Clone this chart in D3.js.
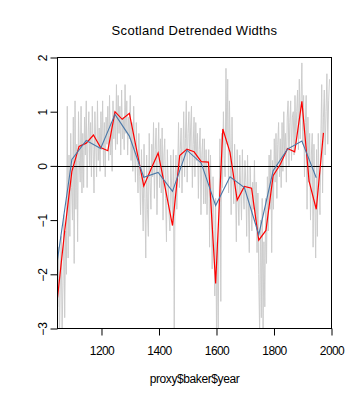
<!DOCTYPE html>
<html>
<head>
<meta charset="utf-8">
<script src="https://cdn.jsdelivr.net/npm/d3@7"></script>
<style>
html,body{margin:0;padding:0;background:#fff;}
svg{display:block;}
text{font-family:"Liberation Sans",Arial,sans-serif;fill:#000;}
</style>
</head>
<body>
<svg id="chart" width="360" height="400"></svg>
<script>
// ---- data ----
const titleText = "Scotland Detrended Widths";
const xLabelText = "proxy$baker$year";
const xTicks = [1200, 1400, 1600, 1800, 2000];
const yTicks = [-3, -2, -1, 0, 1, 2];
const xDomain = [1047, 2000];
const yDomain = [-3, 2];

// annual series (read at 3-year steps from the grey band)
const grayStart = 1048;
const grayStep = 3;
const grayValues = [
  -2.6,-1.5,-3.2,-2.0,-1.3,-3.1,-2.2,-0.9,-2.8,-1.2,
  -2.0,1.1,-1.7,0.2,-1.3,0.6,-0.4,-1.0,0.9,-1.8,
  1.2,-0.8,0.4,-1.4,1.0,0.1,-0.3,1.1,-0.5,0.6,
  -0.4,0.9,0.2,1.2,-0.4,0.5,1.0,0.0,0.8,-0.2,
  1.1,0.3,-0.5,1.0,0.4,-0.2,1.2,0.1,0.7,-0.1,
  1.0,0.3,1.2,0.0,0.8,-0.2,0.9,0.4,1.1,0.1,
  1.3,0.2,0.8,-0.1,1.2,0.5,1.0,0.3,1.5,0.4,
  1.3,0.6,1.1,0.2,1.4,0.5,0.9,0.3,1.5,0.6,
  1.2,0.2,0.9,0.5,1.3,0.1,0.8,-0.1,1.1,0.3,
  -0.3,0.8,0.1,-0.5,0.6,-0.2,-0.9,0.3,-0.4,-1.2,
  0.4,-0.6,-1.7,0.2,-0.8,-1.3,0.6,-0.3,-0.8,0.4,
  -0.2,0.8,-0.6,0.3,0.7,-0.9,0.1,0.8,-0.4,0.5,
  -0.5,0.7,-1.0,0.2,0.5,-0.6,-1.4,0.3,-0.3,-0.9,
  -1.2,0.2,-0.4,-1.0,0.3,-3.1,-0.2,0.2,-0.8,-0.1,
  0.8,-0.4,0.3,0.7,-0.5,0.2,1.0,-0.2,0.5,1.2,
  -0.3,0.6,1.0,0.0,0.7,1.1,-0.4,0.4,0.9,-0.2,
  0.8,0.1,0.6,-0.6,0.3,0.7,-0.9,0.2,0.5,-0.7,
  0.5,-0.7,0.3,-0.9,-0.2,0.3,-1.5,0.2,-0.6,-1.9,
  -0.2,-1.0,-2.4,-0.6,-3.1,-1.4,-3.1,-0.8,0.5,-2.5,
  0.6,-0.4,1.0,0.2,-0.2,1.8,0.4,1.6,-0.5,1.2,
  0.3,-0.9,0.9,-0.2,-0.7,0.4,-0.3,-1.4,0.3,-0.6,
  -1.1,0.2,-0.4,-1.0,0.3,-0.5,-0.8,0.1,-0.3,-1.3,
  0.2,-0.7,-1.6,0.0,-0.5,-1.2,-0.3,-0.8,0.1,-1.0,
  -0.3,-1.6,-0.5,-2.0,-3.1,-1.0,-2.8,-0.6,-3.1,-1.4,
  -2.6,-0.6,-1.8,-0.2,-1.2,0.2,-0.8,0.3,-1.6,0.1,
  -0.8,0.5,-0.3,0.6,-0.6,0.4,0.8,-0.2,0.5,-0.4,
  0.8,-0.1,1.0,0.2,0.6,-0.3,0.9,1.2,0.0,0.8,
  1.2,0.1,0.9,1.0,0.2,1.3,0.4,1.0,1.4,0.3,
  1.6,0.5,1.2,1.9,0.4,1.3,-0.2,0.8,1.3,-0.8,
  0.9,-0.3,0.6,-1.0,0.2,0.6,-1.5,0.4,-0.6,-1.7,
  0.3,-1.3,0.6,-0.4,-0.9,0.5,1.5,-0.5,0.9,1.4,
  0.2,1.0,1.7,0.4,1.2,1.6
];

// 25-year means (red)
const redYears = [1047,1072,1097,1122,1147,1172,1197,1222,1247,1272,1297,1322,1347,1372,1397,1422,1447,1472,1497,1522,1547,1572,1597,1622,1647,1672,1697,1722,1747,1772,1797,1822,1847,1872,1897,1922,1947,1972];
const redValues = [-2.43,-1.2,-0.1,0.36,0.42,0.57,0.34,0.28,1.0,0.86,0.97,0.30,-0.37,-0.06,0.24,-0.42,-1.1,0.19,0.31,0.26,0.08,0.07,-2.17,0.68,0.25,-0.63,-0.38,-0.41,-1.37,-1.19,-0.18,0.03,0.32,0.26,1.19,-0.28,-0.80,0.61];

// 50-year means (blue)
const blueYears = [1047,1097,1147,1197,1247,1297,1347,1397,1447,1497,1547,1597,1647,1697,1747,1797,1847,1897,1947];
const blueValues = [-1.73,0.12,0.47,0.32,0.95,0.55,-0.21,-0.12,-0.47,0.29,0.05,-0.73,-0.2,-0.40,-1.27,-0.09,0.31,0.46,-0.22];

// ---- layout ----
const L = 57.5, R = 331.5, T = 57.5, B = 328.5;
const svg = d3.select("#chart");
const x = d3.scaleLinear().domain(xDomain).range([L, R]);
const y = d3.scaleLinear().domain(yDomain).range([B, T]);

svg.append("defs").append("clipPath").attr("id","plotclip")
  .append("rect").attr("x", L).attr("y", T).attr("width", R - L).attr("height", B - T);

const plot = svg.append("g").attr("clip-path","url(#plotclip)");

const grayData = grayValues.map((v,i)=>({yr: grayStart + i*grayStep, v}));
const line = d3.line().x(d=>x(d.yr)).y(d=>y(d.v));

plot.append("path").datum(grayData)
  .attr("d", line).attr("fill","none").attr("stroke","#cccccc").attr("stroke-width",1);

// zero line
plot.append("line").attr("x1", L).attr("x2", R)
  .attr("y1", Math.round(y(0))+0.5).attr("y2", Math.round(y(0))+0.5)
  .attr("stroke","#000").attr("stroke-width",1);

const redData = redYears.map((yr,i)=>({yr, v: redValues[i]}));
const blueData = blueYears.map((yr,i)=>({yr, v: blueValues[i]}));

plot.append("path").datum(redData)
  .attr("d", line).attr("fill","none").attr("stroke","#ff0000").attr("stroke-width",1.2);
plot.append("path").datum(blueData)
  .attr("d", line).attr("fill","none").attr("stroke","#4a78a8").attr("stroke-width",1.1);

// box
svg.append("rect").attr("x", L).attr("y", T).attr("width", R - L).attr("height", B - T)
  .attr("fill","none").attr("stroke","#000").attr("stroke-width",1);

// x axis
const xAxis = d3.axisBottom(x).tickValues(xTicks).tickSize(7).tickPadding(11).tickFormat(d3.format("d"));
const gx = svg.append("g").attr("transform", `translate(0,${B})`).call(xAxis);
gx.select(".domain").remove();
gx.selectAll(".tick line").attr("stroke","#000");
gx.selectAll("text").attr("font-size", 12).attr("font-family","Liberation Sans, Arial, sans-serif")
  .attr("letter-spacing", -0.6).attr("fill","#000");

// y axis
const yAxis = d3.axisLeft(y).tickValues(yTicks).tickSize(7).tickFormat(d3.format("d"));
const gy = svg.append("g").attr("transform", `translate(${L},0)`).call(yAxis);
gy.select(".domain").remove();
gy.selectAll(".tick line").attr("stroke","#000");
gy.selectAll("text")
  .attr("x", null).attr("dy", null)
  .attr("font-size", 12).attr("font-family","Liberation Sans, Arial, sans-serif")
  .attr("text-anchor","middle").attr("fill","#000")
  .attr("transform", "translate(-11,0) rotate(-90)");

// title
svg.append("text").attr("x", (L+R)/2).attr("y", 35).attr("text-anchor","middle")
  .attr("font-size", 13).attr("letter-spacing", 0.3).text(titleText);

// x label
svg.append("text").attr("x", (L+R)/2).attr("y", 383).attr("text-anchor","middle")
  .attr("font-size", 12).attr("letter-spacing", -0.4).text(xLabelText);
</script>
</body>
</html>
